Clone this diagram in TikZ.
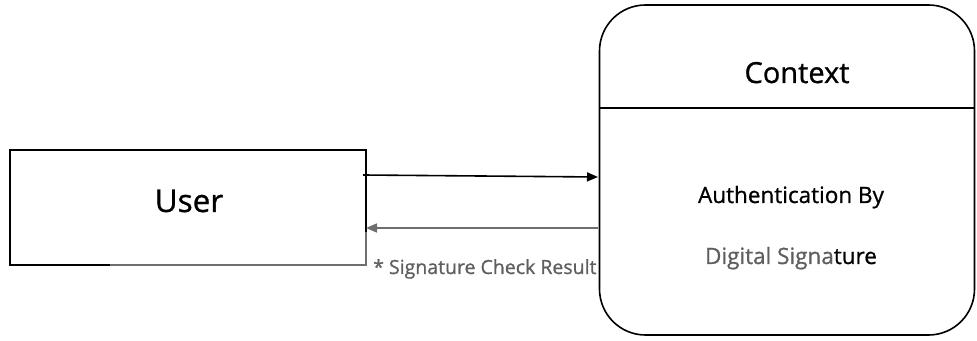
\documentclass[tikz,border=0pt]{standalone}
\usepackage{fontspec}
\setmainfont{Open Sans}[UprightFeatures={FakeBold=0.9}]
\usetikzlibrary{arrows.meta}
\definecolor{linegray}{RGB}{110,110,110}
\definecolor{textgray}{RGB}{95,95,95}
\tikzset{
  entitybox/.style={draw=black, line width=1.6pt, minimum width=356pt, minimum height=115pt, inner sep=0pt},
  procbox/.style={draw=black, line width=1.6pt, rounded corners=46pt, minimum width=375pt, minimum height=330pt, inner sep=0pt},
  flowline/.style={line width=1.6pt, -{Triangle[length=11pt,width=9pt]}},
  label/.style={inner sep=0pt, anchor=base}
}
\begin{document}
\begin{tikzpicture}[x=1pt,y=1pt]
  \useasboundingbox (0,0) rectangle (977,340);
  % external entity
  \node[entitybox] (user) at (188,132.5) {};
  \node[label, font=\fontsize{31.5}{34}\selectfont] (usertxt) at (189,128) {User};
  \draw[linegray, line width=1.6pt] (110,75) -- (366,75) -- (366,108);
  % process
  \node[procbox] (proc) at (787,170) {};
  \coordinate (divL) at (600,232);
  \coordinate (divR) at (974.5,232);
  \draw[line width=1.2pt] (divL) -- (divR);
  \node[label, font=\fontsize{29}{32}\selectfont] (ctx) at (797,257) {Context};
  \node[label, font=\fontsize{22.5}{25}\selectfont] (auth) at (791,137) {Authentication By};
  \node[label, font=\fontsize{22.5}{25}\selectfont] (dsig) at (791,76) {\textcolor{textgray}{Digital Signa}ture};
  % data flows
  \coordinate (outA) at (363,165);
  \coordinate (inA) at (598,163);
  \draw[flowline] (outA) -- (inA);
  \coordinate (outB) at (598,112);
  \coordinate (inB) at (366,112);
  \draw[flowline, linegray] (outB) -- (inB);
  \node[label, anchor=base west, textgray, font=\fontsize{19.5}{22}\selectfont] (res) at (373,66) {* Signature Check Result};
\end{tikzpicture}
\end{document}
